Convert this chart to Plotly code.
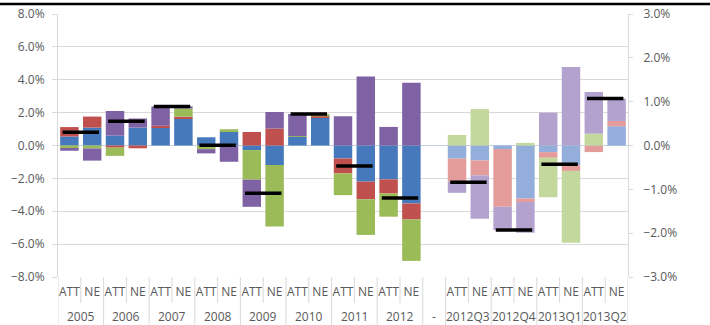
import plotly.graph_objects as go

# ---- categories -------------------------------------------------------
years = ["2005", "2006", "2007", "2008", "2009", "2010", "2011", "2012"]
quarters = ["2012Q3", "2012Q4", "2013Q1", "2013Q2"]
methods = ["ATT", "NE"]
gap_label = "-"

# ---- annual contributions (% pts), ordered ATT, NE per year -----------
blue_yr = [0.55, 1.09, 0.60, 1.09, 1.10, 1.65, 0.50, 0.87,
           -0.28, -1.19, 0.52, 1.72, -0.79, -2.20, -2.06, -3.53]
red_yr = [0.57, 0.67, -0.13, -0.17, 0.10, 0.10, 0.00, 0.00,
          0.82, 1.03, 0.00, 0.05, -0.91, -1.07, -0.86, -0.97]
green_yr = [-0.20, -0.18, -0.50, 0.00, 0.00, 0.50, -0.22, 0.12,
            -1.80, -3.74, 0.05, 0.15, -1.32, -2.17, -1.41, -2.52]
purple_yr = [-0.12, -0.74, 1.50, 0.55, 1.18, 0.13, -0.26, -0.99,
             -1.65, 1.01, 1.35, 0.00, 1.78, 4.20, 1.13, 3.82]
total_yr = [0.80, 1.47, 2.38, 0.01, -2.90, 1.92, -1.24, -3.20]

# ---- quarterly contributions (% pts, right axis) ----------------------
blue_q = [-0.30, -0.34, -0.08, -1.21, -0.15, -0.45, 0.00, 0.44]
red_q = [-0.52, -0.34, -1.32, -0.08, -0.13, -0.13, -0.15, 0.12]
green_q = [0.24, 0.83, 0.00, 0.06, -0.90, -1.64, 0.27, 0.00]
purple_q = [-0.26, -0.99, -0.53, -0.70, 0.75, 1.79, 0.95, 0.51]
total_q = [-0.84, -1.93, -0.43, 1.07]

# ---- styling ----------------------------------------------------------
dark = ["#4679BC", "#C0504D", "#9BBB59", "#7F62A3"]
light = ["#93AEDA", "#E39C9A", "#C2D89C", "#B2A2CD"]
text_col = "#595959"
grid_col = "#D9D9D9"
font_fam = "Open Sans"
font_size = 12

# ---- slot positions ---------------------------------------------------
n_m = len(methods)
n_year_slots = len(years) * n_m
gap_pos = n_year_slots
x_yr = list(range(n_year_slots))
x_q = [gap_pos + 1 + i for i in range(len(quarters) * n_m)]
n_slots = gap_pos + 1 + len(x_q)

yr_centers = [g * n_m + (n_m - 1) / 2 for g in range(len(years))]
q_centers = [gap_pos + 1 + g * n_m + (n_m - 1) / 2 for g in range(len(quarters))]

fig = go.Figure()

for vals, col in zip([blue_yr, red_yr, green_yr, purple_yr], dark):
    fig.add_trace(go.Bar(x=x_yr, y=vals, marker=dict(color=col, line=dict(width=0)),
                         yaxis="y", showlegend=False))
for vals, col in zip([blue_q, red_q, green_q, purple_q], light):
    fig.add_trace(go.Bar(x=x_q, y=vals, marker=dict(color=col, line=dict(width=0)),
                         yaxis="y2", showlegend=False))

dash_marker = dict(symbol="line-ew", size=26, color="black",
                   line=dict(color="black", width=3.5))
fig.add_trace(go.Scatter(x=yr_centers, y=total_yr, mode="markers",
                         marker=dash_marker, yaxis="y", showlegend=False))
fig.add_trace(go.Scatter(x=q_centers, y=total_q, mode="markers",
                         marker=dash_marker, yaxis="y2", showlegend=False))

# ---- category dividers below the plot ---------------------------------
top_m, bot_m = 14, 48
plot_h = 325 - top_m - bot_m
shapes = []
inner_len = -26 / plot_h
outer_len = -52 / plot_h
group_edges = [-0.5] + [g * n_m + n_m - 0.5 for g in range(len(years))]
group_edges += [gap_pos + 0.5] + [gap_pos + 1 + g * n_m + n_m - 0.5 for g in range(len(quarters))]
inner_edges = [g * n_m + 0.5 for g in range(len(years))]
inner_edges += [gap_pos + 1 + g * n_m + 0.5 for g in range(len(quarters))]
for xe in group_edges:
    shapes.append(dict(type="line", xref="x", yref="paper", x0=xe, x1=xe,
                       y0=0, y1=outer_len, line=dict(color=grid_col, width=1)))
for xe in inner_edges:
    shapes.append(dict(type="line", xref="x", yref="paper", x0=xe, x1=xe,
                       y0=0, y1=inner_len, line=dict(color=grid_col, width=1)))
# rule across the top of the figure
rule_y = 1 + (top_m - 4) / plot_h
shapes.append(dict(type="line", xref="paper", yref="paper",
                   x0=-58 / 570, x1=652 / 570, y0=rule_y, y1=rule_y,
                   line=dict(color="black", width=2.5)))

# ---- outer category labels --------------------------------------------
annotations = []
outer_labels = years + [gap_label] + quarters
outer_pos = yr_centers + [gap_pos] + q_centers
for lab, xp in zip(outer_labels, outer_pos):
    annotations.append(dict(x=xp, y=-39.5 / plot_h, xref="x", yref="paper",
                            text=lab, showarrow=False, yanchor="middle",
                            font=dict(family=font_fam, size=font_size, color=text_col)))

tick_vals = x_yr + x_q
tick_text = methods * len(years) + methods * len(quarters)
tick_font = dict(family=font_fam, size=font_size, color=text_col)

fig.update_layout(
    width=710, height=325, autosize=False,
    margin=dict(l=58, r=82, t=top_m, b=bot_m, pad=0, autoexpand=False),
    paper_bgcolor="white", plot_bgcolor="white",
    barmode="relative", bargap=0.19,
    font=dict(family=font_fam, size=font_size, color=text_col),
    shapes=shapes, annotations=annotations,
    xaxis=dict(range=[-0.5, n_slots - 0.5], tickvals=tick_vals, ticktext=tick_text,
               showgrid=False, zeroline=False, showline=False, ticks="",
               ticklabelstandoff=6, automargin=False, tickfont=tick_font),
    yaxis=dict(range=[-8, 8], dtick=2, tickformat=".1f", ticksuffix="%",
               showgrid=True, gridcolor=grid_col, gridwidth=1,
               zeroline=True, zerolinecolor="#C6D0DE", zerolinewidth=1,
               showline=True, linecolor=grid_col, ticks="outside", ticklen=5,
               tickcolor=grid_col, ticklabelstandoff=5, automargin=False,
               tickfont=tick_font),
    yaxis2=dict(range=[-3, 3], dtick=1, tickformat=".1f", ticksuffix="%",
                overlaying="y", side="right", showgrid=False, zeroline=False,
                showline=True, linecolor=grid_col, ticks="outside", ticklen=4,
                tickcolor=grid_col, ticklabelstandoff=8, automargin=False,
                tickfont=tick_font),
)

fig.write_html("out.html")
